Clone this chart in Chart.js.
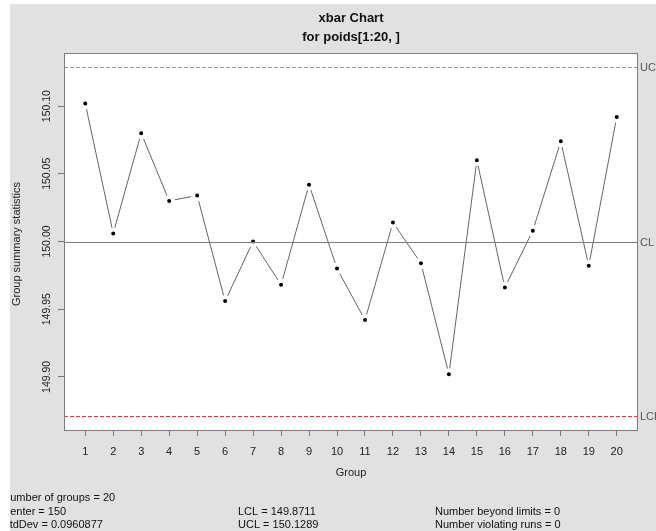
<!DOCTYPE html>
<html>
<head>
<meta charset="utf-8">
<script src="https://cdn.jsdelivr.net/npm/chart.js@4/dist/chart.umd.min.js"></script>
<style>
  html, body { margin: 0; padding: 0; background: #fff; }
  canvas { display: block; }
</style>
</head>
<body>
<canvas id="xbarChart" width="656" height="531"></canvas>
<script>
// group means
const groups = [1, 2, 3, 4, 5, 6, 7, 8, 9, 10, 11, 12, 13, 14, 15, 16, 17, 18, 19, 20];
const groupMeans = [150.102, 150.006, 150.080, 150.030, 150.034, 149.956, 150.000, 149.968, 150.042, 149.980,
                    149.942, 150.014, 149.984, 149.902, 150.060, 149.966, 150.008, 150.074, 149.982, 150.092];
const centerValue = 150;
const lclValue = 149.8711;
const uclValue = 150.1289;
const yTickValues = [149.90, 149.95, 150.00, 150.05, 150.10];
const yTickLabels = ['149.90', '149.95', '150.00', '150.05', '150.10'];
const titleLines = ['xbar Chart', 'for poids[1:20, ]'];
const statsCol1 = ['Number of groups = 20', 'Center = 150', 'StdDev = 0.0960877'];
const statsCol2 = ['', 'LCL = 149.8711', 'UCL = 150.1289'];
const statsCol3 = ['', 'Number beyond limits = 0', 'Number violating runs = 0'];

// R pads the ranges by 4%
const xPad = (groups[groups.length - 1] - groups[0]) * 0.04;
const yPad = (uclValue - lclValue) * 0.04;

const FONT = "'Liberation Sans', Arial, sans-serif";
const BG_GRAY = '#e1e1e1';

const qccDecor = {
    id: 'qccDecor',
    beforeDraw(chart) {
        const { ctx, chartArea: a } = chart;
        ctx.save();
        ctx.fillStyle = '#fff';
        ctx.fillRect(0, 0, chart.width, chart.height);
        ctx.fillStyle = BG_GRAY;
        ctx.fillRect(10, 4, chart.width - 10, chart.height - 4);
        ctx.fillStyle = '#fff';
        ctx.fillRect(a.left, a.top, a.right - a.left, a.bottom - a.top);
        ctx.restore();
    },
    afterDatasetsDraw(chart) {
        const { ctx, chartArea: a } = chart;
        const ys = chart.scales.y;
        ctx.save();

        // control limits + center line
        const hline = (val, color, dash, label) => {
            const py = Math.round(ys.getPixelForValue(val)) + 0.5;
            ctx.strokeStyle = color;
            ctx.lineWidth = 1;
            ctx.setLineDash(dash);
            ctx.beginPath();
            ctx.moveTo(a.left, py);
            ctx.lineTo(a.right, py);
            ctx.stroke();
            ctx.setLineDash([]);
            ctx.fillStyle = '#555';
            ctx.font = '11px ' + FONT;
            ctx.textAlign = 'left';
            ctx.textBaseline = 'middle';
            ctx.fillText(label, a.right + 2, py);
        };
        hline(uclValue, '#2ec4c4', [4, 2], 'UCL');
        hline(centerValue, '#7a7a7a', [], 'CL');
        hline(lclValue, '#e23c3c', [4, 2], 'LCL');

        // plot box
        ctx.strokeStyle = '#7c7c7c';
        ctx.lineWidth = 1;
        ctx.strokeRect(a.left + 0.5, a.top + 0.5, a.right - a.left - 1, a.bottom - a.top);

        // y tick labels, rotated like R
        ctx.fillStyle = '#222';
        ctx.font = '10.5px ' + FONT;
        ctx.textAlign = 'center';
        ctx.textBaseline = 'middle';
        yTickValues.forEach((v, i) => {
            const py = ys.getPixelForValue(v);
            ctx.save();
            ctx.translate(47, py);
            ctx.rotate(-Math.PI / 2);
            ctx.fillText(yTickLabels[i], 0, 0);
            ctx.restore();
        });

        // axis titles
        ctx.font = '11px ' + FONT;
        ctx.save();
        ctx.translate(17, 244);
        ctx.rotate(-Math.PI / 2);
        ctx.fillText('Group summary statistics', 0, 0);
        ctx.restore();
        ctx.fillText('Group', (a.left + a.right) / 2, 473);

        // title
        ctx.fillStyle = '#111';
        ctx.font = 'bold 13px ' + FONT;
        ctx.textBaseline = 'alphabetic';
        ctx.fillText(titleLines[0], (a.left + a.right) / 2, 22);
        ctx.fillText(titleLines[1], (a.left + a.right) / 2, 40.5);

        // summary text under the chart (left edge is cut off in the original)
        ctx.beginPath();
        ctx.rect(10, 4, chart.width - 10, chart.height - 4);
        ctx.clip();
        ctx.font = '11px ' + FONT;
        ctx.textAlign = 'left';
        const rowsY = [501, 514.5, 528];
        [[statsCol1, 2.3], [statsCol2, 238], [statsCol3, 435]].forEach(([lines, x]) => {
            lines.forEach((t, i) => { if (t) ctx.fillText(t, x, rowsY[i]); });
        });
        ctx.restore();
    }
};

new Chart(document.getElementById('xbarChart'), {
    type: 'line',
    data: {
        datasets: [{
            data: groups.map((g, i) => ({ x: g, y: groupMeans[i] })),
            borderColor: '#666',
            borderWidth: 1,
            tension: 0,
            pointRadius: 4,
            pointBackgroundColor: '#000',
            pointBorderColor: '#fff',
            pointBorderWidth: 4
        }]
    },
    options: {
        responsive: false,
        animation: false,
        events: [],
        layout: { padding: { top: 53, right: 18, left: 0, bottom: 0 } },
        plugins: { legend: { display: false }, tooltip: { enabled: false } },
        scales: {
            x: {
                type: 'linear',
                min: groups[0] - xPad,
                max: groups[groups.length - 1] + xPad,
                afterBuildTicks: s => { s.ticks = groups.map(v => ({ value: v })); },
                afterFit: s => { s.height = 101; },
                grid: { drawOnChartArea: false, drawTicks: true, tickLength: 6, color: '#777' },
                border: { display: false },
                ticks: { padding: 9, color: '#222', font: { family: FONT, size: 11 }, maxRotation: 0, autoSkip: false }
            },
            y: {
                type: 'linear',
                min: lclValue - yPad,
                max: uclValue + yPad,
                afterBuildTicks: s => { s.ticks = yTickValues.map(v => ({ value: v })); },
                afterFit: s => { s.width = 64; },
                grid: { drawOnChartArea: false, drawTicks: true, tickLength: 6, color: '#777' },
                border: { display: false },
                ticks: { display: false }
            }
        }
    },
    plugins: [qccDecor]
});
</script>
</body>
</html>
